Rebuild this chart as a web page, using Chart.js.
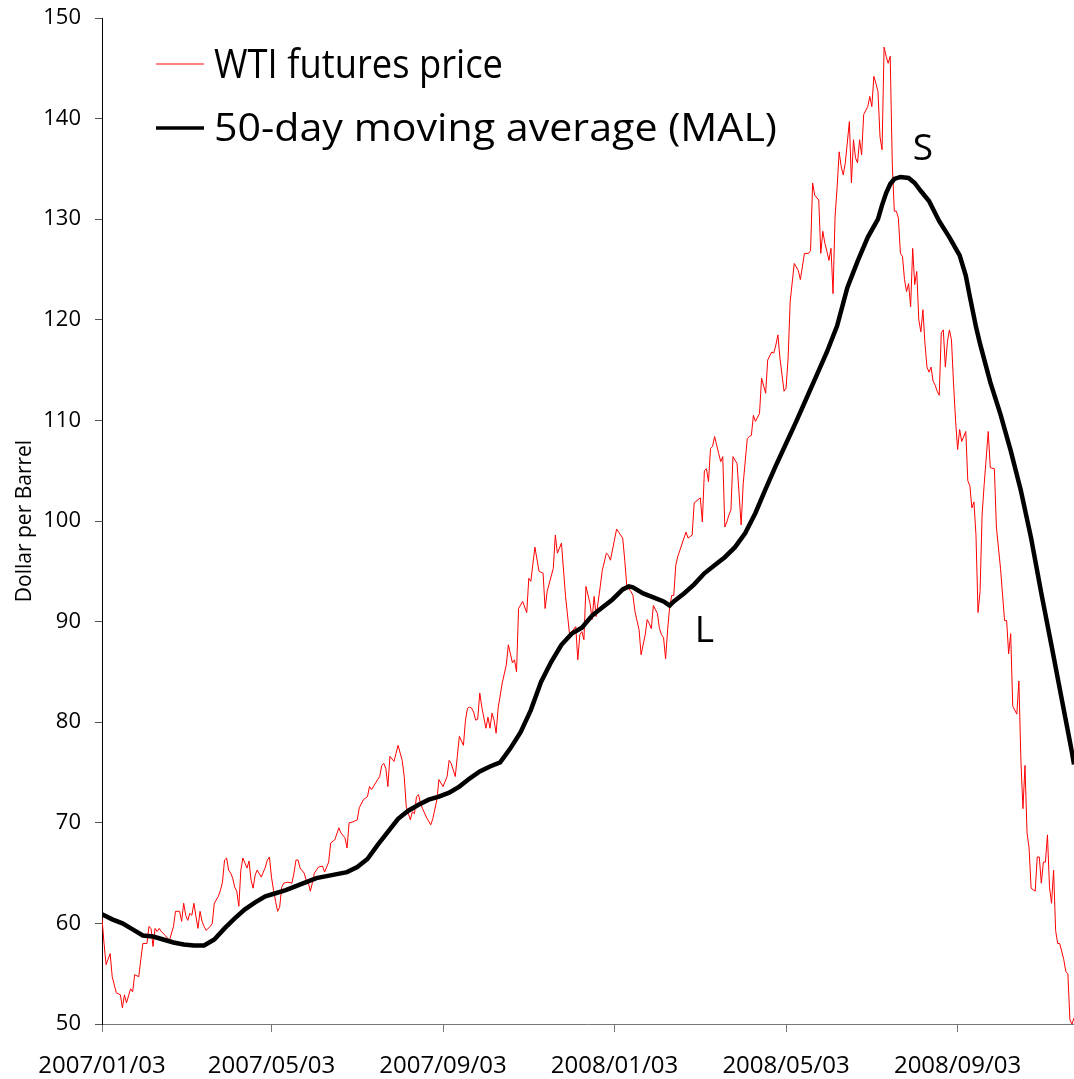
<!DOCTYPE html>
<html>
<head>
<meta charset="utf-8">
<title>WTI futures price and 50-day moving average</title>
<script src="https://cdn.jsdelivr.net/npm/chart.js@4.4.1/dist/chart.umd.min.js"></script>
<style>
  html, body { margin: 0; padding: 0; background: #fff; }
  #wrap { width: 1074px; height: 1079px; }
</style>
</head>
<body>
<div id="wrap"><canvas id="chart" width="1074" height="1079"></canvas></div>
<script>
// trading day index (0 = 2007/01/03) and the labelled dates on the x axis
const tickDays = [0, 83, 167, 251, 335, 419];
const tickLabels = ["2007/01/03", "2007/05/03", "2007/09/03", "2008/01/03", "2008/05/03", "2008/09/03"];
const lastDay = 476;

// WTI futures price
const priceDays = [
  0, 1, 2, 4, 5, 7, 9, 10, 11, 12, 14, 15, 16, 18, 19, 20, 22, 23, 24, 25,
  26, 27, 28, 29, 31, 33, 35, 36, 38, 39, 40, 41, 42, 43, 44, 45, 46, 47, 48, 49,
  50, 51, 53, 54, 55, 57, 58, 59, 60, 61, 62, 63, 64, 65, 66, 67, 68, 69, 70, 71,
  72, 73, 74, 75, 76, 78, 80, 81, 82, 83, 84, 85, 86, 87, 88, 89, 91, 93, 94, 95,
  96, 97, 99, 100, 101, 102, 103, 104, 106, 108, 109, 111, 112, 114, 116, 117, 119, 120, 121, 123,
  125, 126, 128, 130, 131, 132, 135, 136, 137, 138, 139, 140, 141, 143, 144, 145, 147, 148, 149, 151,
  152, 153, 154, 155, 156, 157, 159, 161, 162, 164, 165, 167, 169, 170, 171, 173, 174, 175, 177, 178,
  179, 180, 181, 182, 183, 184, 185, 186, 188, 189, 190, 191, 192, 193, 194, 196, 198, 199, 201, 202,
  203, 204, 206, 208, 209, 210, 212, 214, 216, 217, 218, 221, 222, 223, 225, 227, 229, 230, 232, 233,
  234, 235, 236, 237, 239, 240, 241, 242, 244, 245, 247, 248, 249, 252, 255, 256, 257, 259, 260, 261,
  263, 264, 266, 267, 268, 269, 270, 272, 273, 274, 275, 276, 277, 278, 279, 280, 281, 282, 283, 286,
  287, 289, 290, 293, 294, 295, 296, 297, 298, 299, 300, 302, 303, 304, 305, 306, 307, 308, 309, 311,
  313, 314, 316, 317, 318, 319, 320, 322, 323, 325, 326, 328, 329, 330, 331, 332, 334, 335, 336, 337,
  339, 341, 342, 344, 346, 347, 348, 349, 351, 352, 353, 354, 355, 356, 357, 358, 359, 360, 361, 362,
  363, 364, 366, 367, 368, 369, 370, 371, 372, 373, 375, 376, 377, 378, 379, 380, 381, 382, 383, 384,
  385, 386, 387, 388, 389, 390, 391, 392, 393, 394, 395, 396, 397, 398, 399, 400, 401, 402, 403, 404,
  405, 406, 407, 408, 409, 410, 411, 412, 413, 414, 415, 416, 417, 418, 419, 420, 421, 423, 424, 425,
  426, 427, 428, 429, 430, 431, 432, 434, 435, 437, 438, 440, 442, 443, 444, 445, 446, 447, 448, 449,
  450, 451, 452, 453, 454, 455, 457, 458, 459, 460, 461, 462, 463, 464, 465, 466, 467, 468, 469, 471,
  472, 473, 474, 475, 476
];
const priceValues = [
  60.5, 58.0, 55.9, 57.0, 54.7, 53.1, 52.9, 51.6, 52.9, 52.1, 53.5, 53.2, 54.9, 54.7, 56.4, 58.0, 58.0, 59.7, 59.5, 57.7,
  59.5, 59.2, 59.5, 59.2, 58.8, 58.3, 59.7, 61.2, 61.2, 60.2, 62.0, 60.8, 60.3, 61.0, 60.8, 62.0, 60.7, 59.5, 61.2, 60.2,
  59.7, 59.3, 59.7, 60.0, 62.0, 62.7, 63.3, 64.1, 66.3, 66.5, 65.3, 65.0, 64.5, 63.6, 63.2, 61.7, 65.3, 66.5, 66.0, 65.5,
  66.2, 64.3, 63.5, 64.8, 65.3, 64.6, 65.6, 66.3, 66.6, 64.6, 63.3, 62.2, 61.2, 61.6, 63.6, 64.0, 64.1, 64.0, 65.0, 66.3,
  66.3, 65.5, 65.0, 64.3, 64.1, 63.2, 64.0, 65.0, 65.6, 65.7, 65.1, 66.1, 68.0, 68.3, 69.5, 69.0, 68.5, 67.5, 70.0, 70.1,
  70.3, 71.5, 72.3, 72.6, 73.6, 73.3, 74.3, 74.6, 75.7, 75.9, 75.4, 73.6, 76.6, 76.1, 76.9, 77.7, 76.2, 74.6, 71.6, 70.3,
  71.1, 70.9, 72.6, 72.8, 71.9, 71.4, 70.5, 69.8, 70.4, 72.3, 74.3, 73.6, 74.6, 76.2, 75.9, 74.6, 76.6, 78.6, 77.7, 80.2,
  81.4, 81.5, 81.4, 81.0, 80.2, 80.3, 82.9, 81.5, 79.4, 80.5, 79.4, 80.9, 80.2, 78.9, 81.4, 83.9, 85.7, 87.7, 85.9, 86.2,
  85.0, 91.3, 92.0, 90.9, 94.3, 94.0, 97.4, 95.0, 94.8, 91.3, 93.0, 95.3, 98.6, 96.8, 97.8, 92.5, 88.7, 89.0, 89.5, 86.2,
  88.7, 89.0, 88.2, 93.5, 91.8, 90.2, 92.5, 90.5, 93.5, 95.1, 96.8, 96.6, 96.1, 99.2, 98.3, 96.1, 93.5, 93.0, 92.6, 91.0,
  89.2, 86.7, 88.7, 90.2, 89.8, 89.3, 91.6, 90.8, 89.3, 88.7, 88.4, 86.3, 89.2, 91.5, 92.6, 92.6, 95.6, 96.5, 97.1, 98.9,
  98.3, 98.6, 101.8, 102.3, 99.9, 105.0, 105.2, 103.9, 107.2, 107.4, 108.4, 106.7, 105.9, 106.4, 99.4, 99.9, 100.6, 101.1, 106.4, 105.7,
  99.6, 103.7, 108.2, 108.4, 108.5, 110.5, 109.9, 110.7, 114.2, 112.7, 116.0, 116.8, 116.7, 117.5, 118.5, 116.2, 112.9, 113.2, 116.2, 121.8,
  125.6, 124.9, 124.0, 126.6, 126.6, 126.9, 133.6, 132.4, 131.9, 126.6, 128.8, 127.6, 126.8, 125.9, 127.1, 122.6, 130.3, 133.2, 136.7, 135.2,
  134.4, 135.6, 139.7, 133.6, 137.9, 136.1, 135.6, 137.9, 136.4, 140.4, 141.2, 142.2, 141.2, 144.2, 143.5, 142.7, 138.2, 136.9, 147.1, 146.2,
  145.5, 146.2, 135.6, 130.8, 130.8, 130.1, 126.6, 126.3, 124.0, 122.8, 123.6, 121.3, 127.1, 123.5, 124.8, 120.0, 118.8, 121.0, 117.7, 115.3,
  114.8, 115.3, 113.9, 113.5, 112.9, 112.5, 118.7, 119.0, 115.3, 117.8, 119.0, 118.0, 113.7, 110.0, 107.1, 109.1, 107.9, 108.9, 104.0, 103.5,
  101.3, 101.9, 98.6, 90.9, 93.0, 100.6, 103.6, 108.9, 105.3, 105.2, 99.4, 95.3, 90.1, 90.1, 86.8, 88.8, 81.6, 81.2, 80.8, 84.1,
  76.2, 71.4, 75.7, 69.0, 67.5, 63.5, 63.2, 66.6, 66.6, 64.0, 66.1, 66.1, 68.8, 63.6, 62.0, 65.3, 59.3, 58.0, 58.0, 56.4,
  55.2, 55.0, 50.4, 50.0, 50.6
];

// 50-day moving average
const maDays = [
  0, 5, 10, 15, 20, 25, 30, 35, 40, 45, 50, 55, 60, 65, 70, 75, 80, 85, 90, 95,
  100, 105, 110, 115, 120, 125, 130, 135, 140, 145, 150, 155, 160, 165, 170, 175, 180, 185, 190, 195,
  200, 205, 210, 215, 220, 225, 230, 235, 240, 245, 250, 255, 258, 260, 265, 270, 275, 278, 280, 285,
  290, 295, 300, 305, 310, 315, 320, 325, 330, 335, 340, 345, 350, 355, 360, 365, 370, 375, 380, 382,
  384, 386, 388, 391, 395, 398, 401, 405, 410, 415, 420, 423, 425, 428, 430, 435, 440, 445, 450, 455,
  460, 465, 470, 475, 476
];
const maValues = [
  60.9, 60.4, 60.0, 59.4, 58.8, 58.7, 58.4, 58.1, 57.9, 57.8, 57.8, 58.4, 59.5, 60.5, 61.4, 62.1, 62.7, 63.0, 63.3, 63.7,
  64.1, 64.5, 64.7, 64.9, 65.1, 65.6, 66.4, 67.8, 69.1, 70.4, 71.2, 71.8, 72.3, 72.6, 73.0, 73.6, 74.4, 75.1, 75.6, 76.0,
  77.4, 79.0, 81.2, 84.0, 86.0, 87.7, 88.8, 89.4, 90.6, 91.4, 92.2, 93.2, 93.5, 93.4, 92.8, 92.4, 92.0, 91.6, 92.0, 92.8,
  93.7, 94.8, 95.6, 96.4, 97.4, 98.8, 100.8, 103.2, 105.5, 107.7, 109.9, 112.2, 114.5, 116.8, 119.4, 123.2, 125.8, 128.2, 130.0, 131.4,
  132.6, 133.5, 134.0, 134.2, 134.1, 133.6, 132.8, 131.8, 129.8, 128.2, 126.4, 124.4, 122.3, 119.3, 117.6, 113.8, 110.6, 107.0, 103.0, 98.3,
  92.8, 87.6, 82.3, 77.0, 75.8
];

// letters marking the turning points of the average
const markLabels = ["L", "S"];
const markDays = [295, 402];
const markValues = [88.0, 135.9];

const yAxisTitle = "Dollar per Barrel";

const FONT = "'Open Sans', 'DejaVu Sans', sans-serif";

// legend and L / S letters, drawn over the plot
const overlayText = {
    id: "overlayText",
    afterDraw(chart) {
        const ctx = chart.ctx;
        const xs = chart.scales.x;
        const ys = chart.scales.y;
        const sets = chart.data.datasets;

        ctx.save();
        ctx.fillStyle = "#000";
        ctx.textBaseline = "alphabetic";

        // legend: price row, then average row
        const rows = [
            { set: sets[1], lineY: 64, base: 78, size: 40, width: 289, lw: 1.5, col: "#ff5a5a" },
            { set: sets[0], lineY: 128, base: 141, size: 38, width: 563, lw: 3.5, col: "#000" },
        ];
        rows.forEach(r => {
            ctx.strokeStyle = r.col;
            ctx.lineWidth = r.lw;
            ctx.beginPath();
            ctx.moveTo(156, r.lineY);
            ctx.lineTo(204, r.lineY);
            ctx.stroke();

            ctx.font = r.size + "px " + FONT;
            ctx.textAlign = "left";
            const w = ctx.measureText(r.set.label).width;
            ctx.save();
            ctx.translate(214, r.base);
            ctx.scale(r.width / w, 1);
            ctx.fillText(r.set.label, 0, 0);
            ctx.restore();
        });

        ctx.font = "37px " + FONT;
        ctx.textAlign = "center";
        markLabels.forEach((t, i) => {
            ctx.fillText(t, xs.getPixelForValue(markDays[i]), ys.getPixelForValue(markValues[i]));
        });
        ctx.restore();
    }
};

const ctx = document.getElementById("chart").getContext("2d");

new Chart(ctx, {
    type: "line",
    data: {
        datasets: [
            {
                label: "50-day moving average (MAL)",
                data: maDays.map((d, i) => ({ x: d, y: maValues[i] })),
                borderColor: "#000",
                borderWidth: 4.5,
                pointRadius: 0,
                tension: 0,
            },
            {
                label: "WTI futures price",
                data: priceDays.map((d, i) => ({ x: d, y: priceValues[i] })),
                borderColor: "#ff0000",
                borderWidth: 1,
                pointRadius: 0,
                tension: 0,
            },
        ],
    },
    options: {
        responsive: false,
        animation: false,
        layout: { padding: { top: 18, right: 0, bottom: 0, left: 0 } },
        plugins: {
            legend: { display: false },
            tooltip: { enabled: false },
        },
        scales: {
            x: {
                type: "linear",
                min: 0,
                max: lastDay,
                afterBuildTicks: (scale) => {
                    scale.ticks = tickDays.map(v => ({ value: v }));
                },
                afterFit: (scale) => { scale.height = 55; },
                grid: { drawOnChartArea: false, tickLength: 8, color: "#777" },
                border: { color: "#777", width: 1 },
                ticks: {
                    autoSkip: false,
                    maxRotation: 0,
                    padding: 20,
                    color: "#000",
                    font: { family: FONT, size: 24 },
                    callback: (value, index) => tickLabels[index],
                },
            },
            y: {
                min: 50,
                max: 150,
                afterFit: (scale) => {
                    scale.width = 102;
                    scale.paddingTop = 0;
                    scale.paddingBottom = 0;
                },
                grid: { drawOnChartArea: false, tickLength: 7, color: "#555" },
                border: { color: "#000", width: 1 },
                ticks: {
                    stepSize: 10,
                    padding: 14,
                    color: "#000",
                    font: { family: FONT, size: 22 },
                },
                title: {
                    display: true,
                    text: yAxisTitle,
                    color: "#000",
                    font: { family: FONT, size: 21 },
                    padding: { top: 12, bottom: 0 },
                },
            },
        },
    },
    plugins: [overlayText],
});
</script>
</body>
</html>
